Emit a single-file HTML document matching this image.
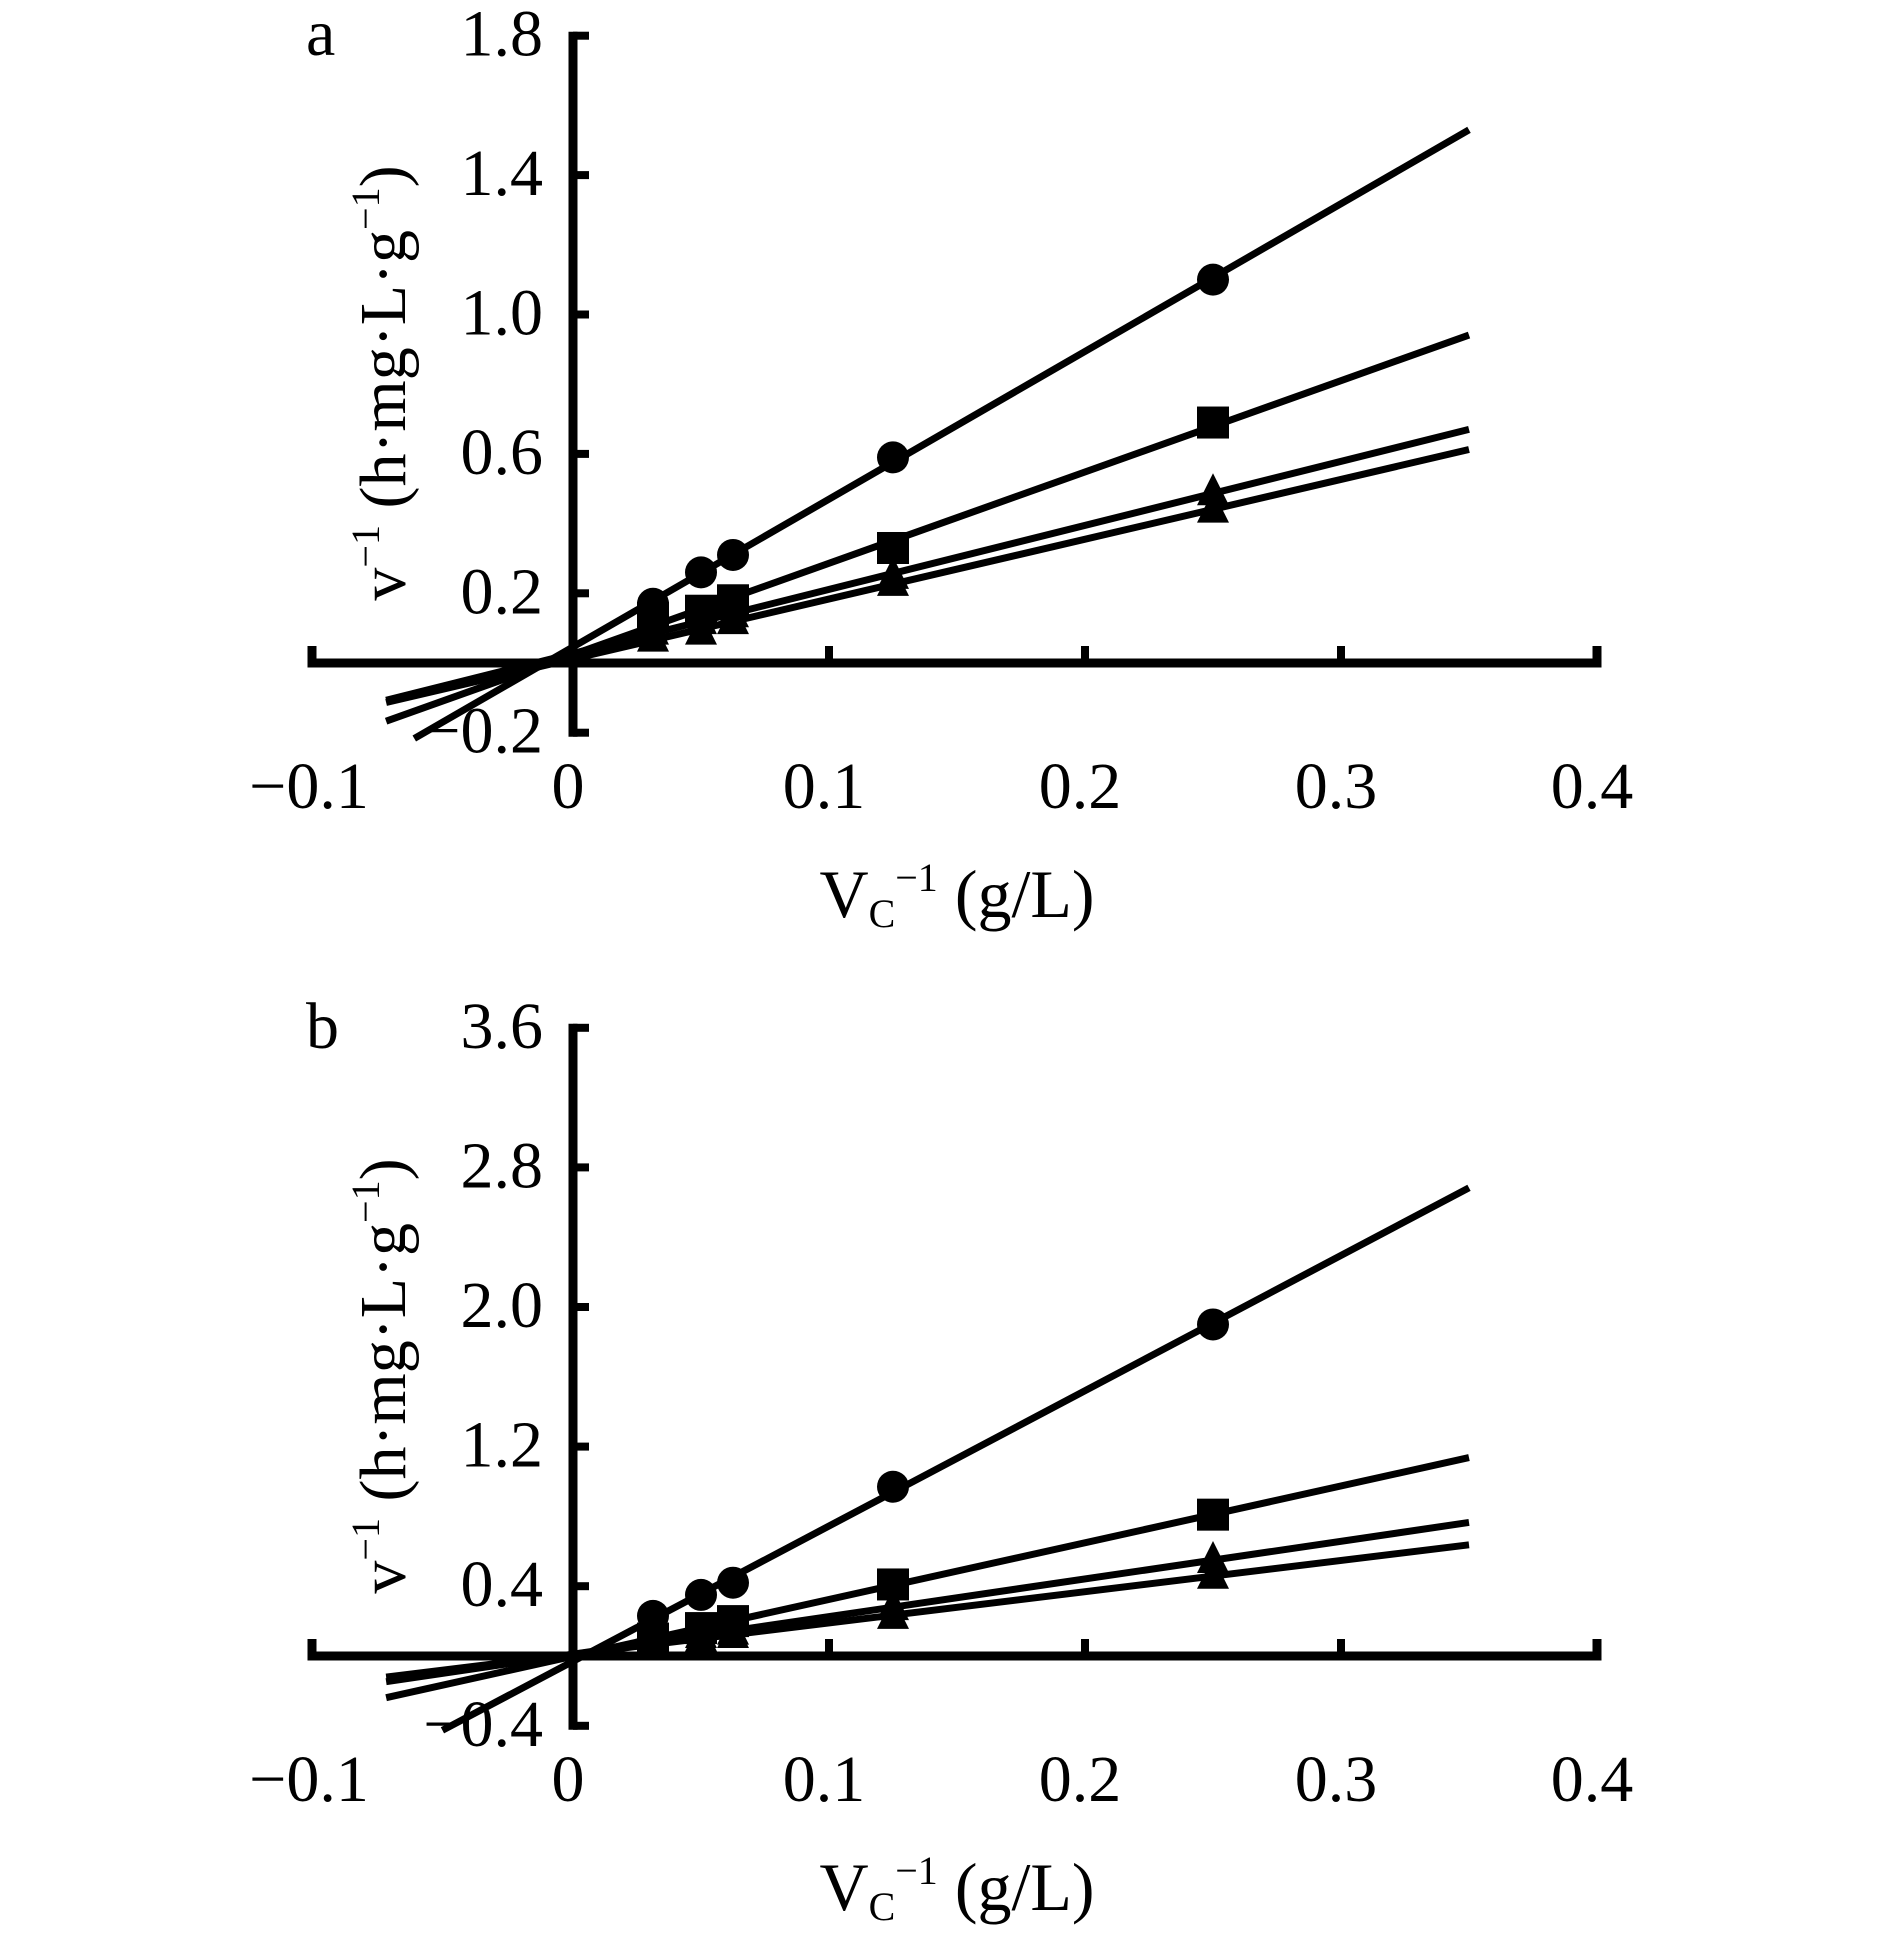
<!DOCTYPE html>
<html><head><meta charset="utf-8"><style>
html,body{margin:0;padding:0;background:#fff;}
svg{display:block;font-family:"Liberation Serif","Times New Roman",serif;}
</style></head><body>
<svg id="chart" width="1890" height="1935" viewBox="0 0 1890 1935" xmlns="http://www.w3.org/2000/svg">
</svg>
<script>
// shared x data (1/Vc)
const xValues = [0.03125, 0.05, 0.0625, 0.125, 0.25];
const xTicks = [-0.1, 0, 0.1, 0.2, 0.3, 0.4];
const xTickLabels = ["\u22120.1", "0", "0.1", "0.2", "0.3", "0.4"];
// panel a series
const aCircle = [0.17, 0.26, 0.31, 0.59, 1.10];
const aSquare = [0.13, 0.15, 0.18, 0.33, 0.69];
const aDiamond = [0.09, 0.12, 0.14, 0.25, 0.49];
const aTriangle = [0.07, 0.09, 0.12, 0.23, 0.44];
const aYTicks = [-0.2, 0.2, 0.6, 1.0, 1.4, 1.8];
const aYTickLabels = ["\u22120.2", "0.2", "0.6", "1.0", "1.4", "1.8"];
// panel b series
const bCircle = [0.23, 0.35, 0.42, 0.97, 1.90];
const bSquare = [0.10, 0.16, 0.20, 0.41, 0.81];
const bDiamond = [0.08, 0.12, 0.14, 0.28, 0.55];
const bTriangle = [0.07, 0.10, 0.12, 0.23, 0.46];
const bYTicks = [-0.4, 0.4, 1.2, 2.0, 2.8, 3.6];
const bYTickLabels = ["\u22120.4", "0.4", "1.2", "2.0", "2.8", "3.6"];

const NS = "http://www.w3.org/2000/svg";
const svg = document.getElementById("chart");
function mk(tag, attrs, parent){
  const e = document.createElementNS(NS, tag);
  for (const k in attrs) e.setAttribute(k, attrs[k]);
  parent.appendChild(e);
  return e;
}
function fit(xs, ys){
  const n = xs.length; let sx=0, sy=0, sxx=0, sxy=0;
  for (let i=0;i<n;i++){ sx+=xs[i]; sy+=ys[i]; sxx+=xs[i]*xs[i]; sxy+=xs[i]*ys[i]; }
  const m = (n*sxy - sx*sy)/(n*sxx - sx*sx);
  return {m:m, b:(sy - m*sx)/n};
}
function panel(cfg){
  const g = mk("g", {}, svg);
  
  
  const X = v => 573 + v*2560;
  const Y = v => cfg.y0 - v*cfg.ppu;
  cfg.series.forEach(s => {
    const f = fit(xValues, s.vals);
    const ln = mk("line", {x1:X(s.x0), y1:Y(f.m*s.x0+f.b), x2:X(0.35), y2:Y(f.m*0.35+f.b), stroke:"#000", "stroke-width":7}, g);
    
    
    s.vals.forEach((v, i) => {
      const cx = X(xValues[i]), cy = Y(v);
      let m;
      if (s.shape === "circle") m = mk("circle", {cx:cx, cy:cy, r:16, fill:"#000"}, g);
      else if (s.shape === "square") m = mk("rect", {x:cx-16, y:cy-16, width:32, height:32, fill:"#000"}, g);
      else m = mk("polygon", {points:`${cx},${cy-19} ${cx+16},${cy+13} ${cx-16},${cy+13}`, fill:"#000"}, g);
      
      
    });
  });
  const xa = mk("path", {d:`M312,${cfg.y0-17} V${cfg.y0} H1597 V${cfg.y0-17}`, fill:"none", stroke:"#000", "stroke-width":9}, g);
  
  
  xTicks.forEach((t, i) => {
    if (t > 0 && t < 0.4) {
      const tk = mk("line", {x1:X(t), y1:cfg.y0, x2:X(t), y2:cfg.y0-17, stroke:"#000", "stroke-width":8}, g);
      
      
    }
    const tx = mk("text", {x:X(t)-(t<0?8:5), y:cfg.y0+145, "text-anchor":"middle", "font-size":66}, g);
    tx.textContent = xTickLabels[i];
    
    
  });
  const ya = mk("line", {x1:573, y1:Y(cfg.yTicks[cfg.yTicks.length-1])-4, x2:573, y2:Y(cfg.yTicks[0])+4, stroke:"#000", "stroke-width":9}, g);
  
  
  cfg.yTicks.forEach((t, i) => {
    const tk = mk("line", {x1:573, y1:Y(t), x2:589, y2:Y(t), stroke:"#000", "stroke-width":8}, g);
    
    
    const tx = mk("text", {x:543, y:Y(t)+20, "text-anchor":"end", "font-size":66}, g);
    tx.textContent = cfg.yTickLabels[i];
    
    
  });
  const pl = mk("text", {x:306, y:cfg.letterY, "font-size":66}, g);
  pl.textContent = cfg.letter;
  
  
  const xt = mk("text", {x:957, y:cfg.y0+254, "text-anchor":"middle", "font-size":68}, g);
  xt.innerHTML = 'V<tspan font-size="40" dy="10">C</tspan><tspan font-size="40" dy="-36">\u22121</tspan><tspan dy="26"> (g/L)</tspan>';
  
  
  const yt = mk("text", {x:0, y:0, "text-anchor":"middle", "font-size":66, transform:`translate(405,${cfg.titleCy}) rotate(-90)`}, g);
  yt.innerHTML = 'v<tspan font-size="40" dy="-26">\u22121</tspan><tspan dy="26"> (h·mg·L·g</tspan><tspan font-size="40" dy="-26">\u22121</tspan><tspan dy="26">)</tspan>';
  
  
}
panel({name:"panel-a", letter:"a", letterY:55, y0:663, ppu:348.5, titleCy:383,
  yTicks:aYTicks, yTickLabels:aYTickLabels,
  series:[
    {key:"a-circle", vals:aCircle, shape:"circle", x0:-0.062},
    {key:"a-square", vals:aSquare, shape:"square", x0:-0.073},
    {key:"a-diamond", vals:aDiamond, shape:"triangle", x0:-0.073},
    {key:"a-triangle", vals:aTriangle, shape:"triangle", x0:-0.073}]});
panel({name:"panel-b", letter:"b", letterY:1048, y0:1656, ppu:174.5, titleCy:1376,
  yTicks:bYTicks, yTickLabels:bYTickLabels,
  series:[
    {key:"b-circle", vals:bCircle, shape:"circle", x0:-0.051},
    {key:"b-square", vals:bSquare, shape:"square", x0:-0.073},
    {key:"b-diamond", vals:bDiamond, shape:"triangle", x0:-0.073},
    {key:"b-triangle", vals:bTriangle, shape:"triangle", x0:-0.073}]});
</script>
</body></html>
